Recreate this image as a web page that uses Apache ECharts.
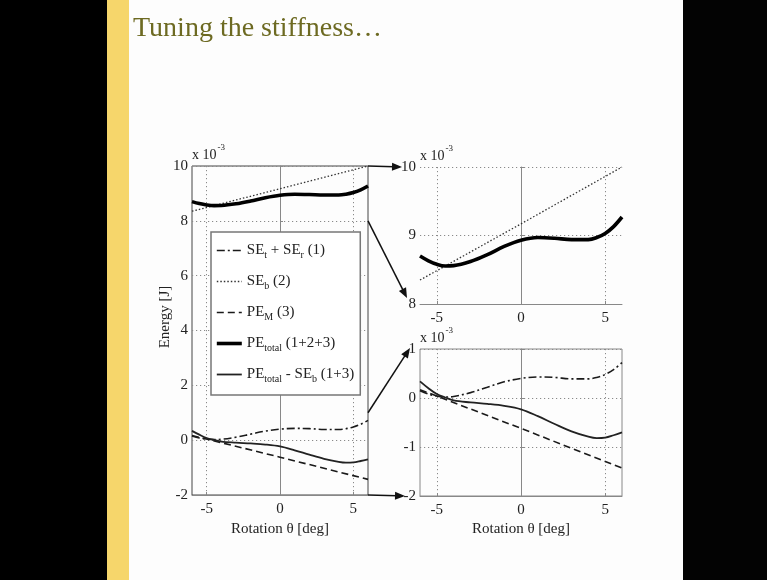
<!DOCTYPE html>
<html><head><meta charset="utf-8">
<script src="https://cdn.jsdelivr.net/npm/echarts@6/dist/echarts.min.js"></script>
<style>html,body{margin:0;padding:0;background:#fdfdfd;} #c{width:767px;height:580px;}</style>
</head><body><div id="c"></div>
<script>
// ---- data (energy in units of 1e-3 J) ----
const theta = [-6, -5.5, -5, -4.5, -4, -3, -2, -1, 0, 1, 2, 3, 4, 4.5, 5, 5.5, 6];
const seTR = [0.15, 0.08, 0.04, 0.02, 0.03, 0.11, 0.22, 0.33, 0.40, 0.43, 0.42, 0.39, 0.39, 0.42, 0.48, 0.58, 0.72];
const peTotal = [8.70, 8.63, 8.58, 8.555, 8.56, 8.62, 8.72, 8.84, 8.93, 8.97, 8.96, 8.94, 8.94, 8.97, 9.03, 9.13, 9.27];
const peMinusSEb = [0.34, 0.20, 0.08, 0.01, -0.05, -0.09, -0.12, -0.16, -0.23, -0.37, -0.53, -0.68, -0.79, -0.82, -0.81, -0.76, -0.70];
const thetaLin = [-6, 0, 6];
const seB = [8.35, 9.17, 10.0];
const peM = [0.17, -0.62, -1.43];
const xTicks = [-5, 0, 5];
const names = ['SE_t + SE_r (1)', 'SE_b (2)', 'PE_M (3)', 'PE_total (1+2+3)', 'PE_total - SE_b (1+3)'];
const richNames = [
  '{m|SE}{s|t}{m| + SE}{s|r}{m| (1)}',
  '{m|SE}{s|b}{m| (2)}',
  '{m|PE}{s|M}{m| (3)}',
  '{m|PE}{s|total}{m| (1+2+3)}',
  '{m|PE}{s|total}{m| - SE}{s|b}{m| (1+3)}'
];
const title = 'Tuning the stiffness\u2026';
const xName = 'Rotation \u03b8 [deg]';
const yName = 'Energy [J]';
const expLabel = '{a|x 10}{b|-3}';

const FONT = '"Liberation Serif", "Times New Roman", serif';
const TXT = '#222';
const pair = (xs, ys) => xs.map((x, i) => [x, ys[i]]);

const chart = echarts.init(document.getElementById('c'), null, {renderer: 'canvas'});

const gridLine = {show: true, lineStyle: {type: [1.2, 2.8], color: '#8a8a8a', width: 1}};
function xAxisCfg(gi, showName) {
  return {
    type: 'value', gridIndex: gi, min: -6, max: 6,
    axisLine: {show: true, onZero: false, lineStyle: {color: '#888', width: 1}},
    axisTick: {show: true, inside: true, length: 3, customValues: xTicks, lineStyle: {color: '#888'}},
    axisLabel: {customValues: xTicks, color: TXT, fontFamily: FONT, fontSize: 15, margin: 7},
    splitLine: gridLine,
    name: showName ? xName : '', nameLocation: 'middle', nameGap: 26,
    nameTextStyle: {color: TXT, fontFamily: FONT, fontSize: 15}
  };
}
function yAxisCfg(gi, min, max, interval) {
  return {
    type: 'value', gridIndex: gi, min, max, interval,
    axisLine: {show: true, lineStyle: {color: '#888', width: 1}},
    axisTick: {show: true, inside: true, length: 3, lineStyle: {color: '#888'}},
    axisLabel: {color: TXT, fontFamily: FONT, fontSize: 15, margin: 4},
    splitLine: gridLine
  };
}

const sty = [
  {color: '#1a1a1a', width: 1.6, type: [8, 3, 2, 3]},
  {color: '#333', width: 1.3, type: [1.5, 2]},
  {color: '#1a1a1a', width: 1.6, type: [7, 4]},
  {color: '#000', width: 3.6, type: 'solid'},
  {color: '#222', width: 1.8, type: 'solid'}
];
function line(name, data, gi, ls, smooth, z) {
  return {type: 'line', name, data, xAxisIndex: gi, yAxisIndex: gi, symbol: 'none', showSymbol: false,
    smooth: smooth ? 0.35 : false, lineStyle: ls, itemStyle: {color: ls.color}, z: z || 2, silent: true, animation: false};
}

chart.setOption({
  animation: false,
  backgroundColor: '#fdfdfd',
  title: {text: title, left: 133, top: 15, padding: 0,
    textStyle: {fontFamily: FONT, fontSize: 28, fontWeight: 'normal', color: '#6d6a22'}},
  grid: [
    {left: 192, top: 166, width: 176, height: 329, show: true, borderColor: '#444', borderWidth: 1, backgroundColor: 'transparent'},
    {left: 420, top: 167, width: 202, height: 137, show: false},
    {left: 420, top: 349, width: 202, height: 147, show: true, borderColor: '#888', borderWidth: 1, backgroundColor: 'transparent'}
  ],
  xAxis: [xAxisCfg(0, true), xAxisCfg(1, false), xAxisCfg(2, true)],
  yAxis: [yAxisCfg(0, -2, 10, 2), yAxisCfg(1, 8, 10, 1), yAxisCfg(2, -2, 1, 1)],
  legend: {
    orient: 'vertical', left: 211, top: 232, padding: [11, 6, 11, 4], itemGap: 14,
    itemWidth: 25, itemHeight: 12, backgroundColor: '#fff', borderColor: '#777', borderWidth: 1.5,
    data: names.map((n, i) => ({name: n, lineStyle: {width: sty[i].width}})), selectedMode: false,
    itemStyle: {color: 'rgba(0,0,0,0)', borderColor: 'rgba(0,0,0,0)', borderWidth: 0, opacity: 0},
    formatter: n => richNames[names.indexOf(n)],
    textStyle: {fontFamily: FONT, fontSize: 15, color: TXT,
      rich: {m: {fontSize: 15, fontFamily: FONT, color: TXT},
             s: {fontSize: 10, fontFamily: FONT, color: TXT, padding: [9, 0, 0, 0]}}}
  },
  series: [
    line(names[0], pair(theta, seTR), 0, sty[0], true),
    line(names[1], pair(thetaLin, seB), 0, sty[1], false),
    line(names[2], pair(thetaLin, peM), 0, sty[2], false),
    line(names[3], pair(theta, peTotal), 0, sty[3], true, 4),
    line(names[4], pair(theta, peMinusSEb), 0, sty[4], true, 3),
    line(names[1], pair(thetaLin, seB), 1, sty[1], false),
    line(names[3], pair(theta, peTotal), 1, sty[3], true, 4),
    line(names[0], pair(theta, seTR), 2, sty[0], true),
    line(names[2], pair(thetaLin, peM), 2, sty[2], false),
    line(names[4], pair(theta, peMinusSEb), 2, sty[4], true, 3)
  ],
  graphic: [
    {id: 'bgL', type: 'rect', shape: {x: 0, y: 0, width: 107, height: 580}, style: {fill: '#000'}},
    {id: 'bar', type: 'rect', shape: {x: 107, y: 0, width: 22, height: 580}, style: {fill: '#f6d66b'}},
    {id: 'bgR', type: 'rect', shape: {x: 683, y: 0, width: 84, height: 580}, style: {fill: '#030303'}},
    {id: 'ylab', type: 'text', x: 165, y: 317, rotation: Math.PI / 2,
      style: {text: yName, font: '15px "Liberation Serif"', fill: TXT, align: 'center', verticalAlign: 'middle'}}
  ]
});

const extra = [];
// exponent labels above each y axis
[[0, 10], [1, 10], [2, 1]].forEach(([gi, top], i) => {
  const p = chart.convertToPixel({gridIndex: gi}, [-6, top]);
  extra.push({id: 'exp' + i, type: 'text', x: p[0], y: p[1] - 11, z: 10,
    style: {text: expLabel, align: 'left', verticalAlign: 'middle', fill: TXT,
      rich: {a: {fontSize: 14, fontFamily: FONT, fill: TXT, color: TXT},
             b: {fontSize: 9, fontFamily: FONT, fill: TXT, color: TXT, padding: [0, 0, 14, 1]}}}});
});
// zoom arrows: from the left plot's right edge to the tick labels of the right plots
const links = [
  {from: [0, 6, 10], to: [1, -6, 10], off: [-18, 0]},
  {from: [0, 6, 8], to: [1, -6, 8], off: [-13, -6]},
  {from: [0, 6, 1], to: [2, -6, 1], off: [-10, -1]},
  {from: [0, 6, -2], to: [2, -6, -2], off: [-15, 0]}
];
links.forEach((l, i) => {
  const a = chart.convertToPixel({gridIndex: l.from[0]}, [l.from[1], l.from[2]]);
  const b0 = chart.convertToPixel({gridIndex: l.to[0]}, [l.to[1], l.to[2]]);
  const b = [b0[0] + l.off[0], b0[1] + l.off[1]];
  const dx = b[0] - a[0], dy = b[1] - a[1], len = Math.hypot(dx, dy);
  const ux = dx / len, uy = dy / len, nx = -uy, ny = ux;
  const hl = 10, hw = 4;
  const base = [b[0] - ux * hl, b[1] - uy * hl];
  extra.push({id: 'al' + i, type: 'line', shape: {x1: a[0], y1: a[1], x2: base[0] + ux * 2, y2: base[1] + uy * 2},
    style: {stroke: '#111', lineWidth: 1.5}, z: 10});
  extra.push({id: 'ah' + i, type: 'polygon',
    shape: {points: [b, [base[0] + nx * hw, base[1] + ny * hw], [base[0] - nx * hw, base[1] - ny * hw]]},
    style: {fill: '#111'}, z: 10});
});
chart.setOption({graphic: extra});
</script>
</body></html>
